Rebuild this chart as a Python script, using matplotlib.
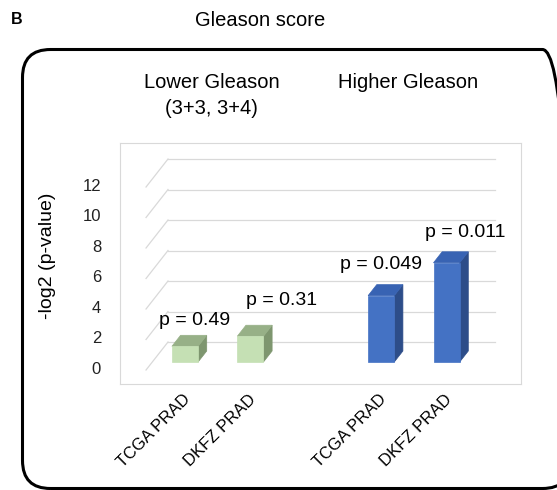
import numpy as np
import matplotlib
matplotlib.use("Agg")
import matplotlib.pyplot as plt
from matplotlib.patches import Polygon, FancyBboxPatch
import matplotlib.transforms as mtransforms

plt.rcParams['font.family'] = ['Liberation Sans', 'DejaVu Sans']

# ---- data ----
groups = ["Lower Gleason\n(3+3, 3+4)", "Higher Gleason"]
cohorts = ["TCGA PRAD", "DKFZ PRAD"]
p_lower = [0.49, 0.31]
p_higher = [0.049, 0.011]
p_labels = ["p = 0.49", "p = 0.31", "p = 0.049", "p = 0.011"]
y_ticks = [0, 2, 4, 6, 8, 10, 12]

# ---- style ----
W_PX, H_PX = 557, 490
fig = plt.figure(figsize=(W_PX / 100, H_PX / 100), dpi=100)

def fx(px):
    return px / W_PX

def fy(py):
    return 1 - py / H_PX

# background layer in pixel units for the rounded panel border
bg = fig.add_axes([0, 0, 1, 1], zorder=0)
bg.set_xlim(0, W_PX)
bg.set_ylim(0, H_PX)
bg.axis('off')
bg.add_patch(FancyBboxPatch((22.5, H_PX - 488.5), 548, 439,
                            boxstyle="round,pad=0,rounding_size=28",
                            facecolor='none', edgecolor='black', lw=2.2, clip_on=False))

# plot area (light frame)
ax = fig.add_axes([fx(120), fy(384), fx(521) - fx(120), fy(143) - fy(384)], zorder=1)
ax.patch.set_alpha(0)
ax.set_xlim(-1.234, 4.898)
ax.set_ylim(-2.754, 13.05)
for sp in ax.spines.values():
    sp.set_color('#d9d9d9')
    sp.set_linewidth(0.8)
ax.set_xticks([])
ax.set_yticks([])

# oblique depth offset of the back wall relative to the front plane
DX, DY = 0.336, 1.836
Z_FRONT, Z_BACK = 0.286, 0.679
BAR_W = 0.40
TICK_X = -1.524

def proj(s, v, z):
    return (s - (1 - z) * DX, v - (1 - z) * DY)

grid_c = '#d9d9d9'
x_left, x_right = -0.5, 4.5
for v in y_ticks:
    ax.plot([x_left, x_right], [v, v], color=grid_c, lw=0.9, zorder=1)
    fx0, fy0 = proj(x_left, v, 0)
    ax.plot([fx0, x_left], [fy0, v], color=grid_c, lw=0.9, zorder=1)
    ax.text(TICK_X, fy0 + 0.05, str(v), ha='right', va='center',
            fontsize=12, color='#222222', clip_on=False)

# bars
colors = [
    ('#c5e0b4', '#97b087', '#7e966f'),
    ('#4472c4', '#3863b3', '#2d4d89'),
]
p_all = [p_lower, p_higher]
label_dx = [[0.14, 0.47], [0.0, 0.29]]
label_dy = [[1.7, 2.35], [2.05, 2.0]]
k = 0
for gi, plist in enumerate(p_all):
    front, top, side = colors[gi]
    for j, p in enumerate(plist):
        s = gi * 3 + j
        h = -np.log2(p)
        l, r = s - BAR_W / 2, s + BAR_W / 2
        face = [proj(l, 0, Z_FRONT), proj(r, 0, Z_FRONT), proj(r, h, Z_FRONT), proj(l, h, Z_FRONT)]
        topf = [proj(l, h, Z_FRONT), proj(r, h, Z_FRONT), proj(r, h, Z_BACK), proj(l, h, Z_BACK)]
        sidef = [proj(r, 0, Z_FRONT), proj(r, h, Z_FRONT), proj(r, h, Z_BACK), proj(r, 0, Z_BACK)]
        for poly, c in ((sidef, side), (topf, top), (face, front)):
            ax.add_patch(Polygon(poly, closed=True, facecolor=c, edgecolor=c, lw=0.5, zorder=3))
        cx, cy = proj(s, h, Z_FRONT)
        ax.text(cx + label_dx[gi][j], cy + label_dy[gi][j], p_labels[k], ha='center', va='center',
                fontsize=14, color='black', zorder=5)
        bx, _ = proj(s, 0, Z_FRONT)
        ax.text(bx + 0.04, -3.6, cohorts[j], rotation=45, rotation_mode='anchor',
                ha='right', va='center', fontsize=12, color='black', clip_on=False)
        k += 1

# group headers above each pair of bars
blend = mtransforms.blended_transform_factory(ax.transData, fig.transFigure)
for gi, g in enumerate(groups):
    gx = gi * 3 + 0.5 - DX
    for li, line in enumerate(g.split("\n")):
        ax.text(gx, fy(82 + 26 * li), line, transform=blend, ha='center', va='center',
                fontsize=14.5, color='black', clip_on=False)

# axis title, panel title and panel letter
fig.text(fx(47), fy(256), "-log2 (p-value)", rotation=90, ha='center', va='center', fontsize=14)
fig.text(fx(260), fy(20), "Gleason score", ha='center', va='center', fontsize=14.5)
fig.text(fx(11), fy(20), "B", ha='left', va='center', fontsize=11.5, fontweight='bold')

fig.savefig("out.png", dpi=100)
